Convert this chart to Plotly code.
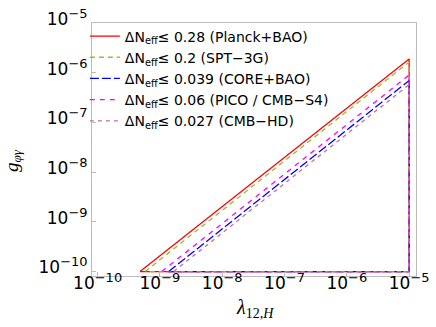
import plotly.graph_objects as go

# ΔN_eff constraint regions in the (λ_12,H , g_φγ) plane
labels = [
    "ΔN<sub>eff</sub>≤ 0.28 (Planck+BAO)",
    "ΔN<sub>eff</sub>≤ 0.2 (SPT−3G)",
    "ΔN<sub>eff</sub>≤ 0.039 (CORE+BAO)",
    "ΔN<sub>eff</sub>≤ 0.06 (PICO / CMB−S4)",
    "ΔN<sub>eff</sub>≤ 0.027 (CMB−HD)",
]
lam_start = [4.8e-10, 5.8e-10, 1.38e-9, 1.07e-9, 1.66e-9]   # where the diagonal meets g = 1e-10
lam_end = [1e-5, 1e-5, 1e-5, 1e-5, 1e-5]
g_top = [1.9e-6, 1.65e-6, 7.0e-7, 9.0e-7, 5.8e-7]
g_floor = 1e-10

x_exps = [-10, -9, -8, -7, -6, -5]
y_exps = [-10, -9, -8, -7, -6, -5]

colors = ["#FF0000", "#99BB33", "#0000FF", "#FF00FF", "#C8708A"]
dashes = ["solid", "5px,4px", "9px,3px", "5px,5px", "4px,4px"]


def pow_label(e):
    return f"10<sup><span style='font-size:13px'>−{abs(e)}</span></sup>"


fig = go.Figure()
for name, x0, x1, gt, col, dsh in zip(labels, lam_start, lam_end, g_top, colors, dashes):
    fig.add_trace(go.Scatter(
        x=[x0, x1, x1, x0], y=[g_floor, gt, g_floor, g_floor],
        mode="lines", name=name,
        line=dict(color=col, width=1.3, dash=dsh),
    ))

axis_common = dict(
    type="log", showgrid=False, zeroline=False,
    showline=True, linecolor="#BBBBBB", linewidth=1, mirror=True,
    ticks="inside", ticklen=4, tickcolor="#BBBBBB", ticklabeloverflow="allow",
    tickfont=dict(family="DejaVu Sans", size=17, color="black"),
)
fig.update_xaxes(**axis_common, range=[-10.09, -4.89], ticklabelstandoff=-8,
                 tickvals=[10.0 ** e for e in x_exps], ticktext=[pow_label(e) for e in x_exps])
fig.update_yaxes(**axis_common, range=[-10.09, -4.998], ticklabelshift=-4,
                 tickvals=[10.0 ** e for e in y_exps], ticktext=[pow_label(e) for e in y_exps])

fig.add_annotation(text="<i>λ</i><sub>12,<i>H</i></sub>", xref="paper", yref="paper",
                   x=(256 - 92) / 325, y=(276 - 311) / 270, showarrow=False,
                   xanchor="center", yanchor="middle",
                   font=dict(family="Liberation Serif, Times New Roman", size=20, color="black"))
fig.add_annotation(text="<i>g</i><sub><i>φγ</i></sub>", xref="paper", yref="paper",
                   x=(12 - 92) / 325, y=(276 - 153) / 270, showarrow=False, textangle=-90,
                   xanchor="center", yanchor="middle",
                   font=dict(family="Liberation Serif, Times New Roman", size=19, color="black"))

fig.update_layout(
    width=436, height=327,
    margin=dict(l=92, r=19, t=6, b=51),
    paper_bgcolor="white", plot_bgcolor="white",
    legend=dict(x=-0.022, y=1.01, xanchor="left", yanchor="top",
                bgcolor="rgba(0,0,0,0)", itemwidth=30, tracegroupgap=0,
                font=dict(family="DejaVu Sans", size=14, color="black")),
)
# the page body has a default 8px margin; drop it so the figure sits at the window origin
fig.write_html("out.html", config={"displayModeBar": False},
               post_script="document.body.style.margin='0px';")
